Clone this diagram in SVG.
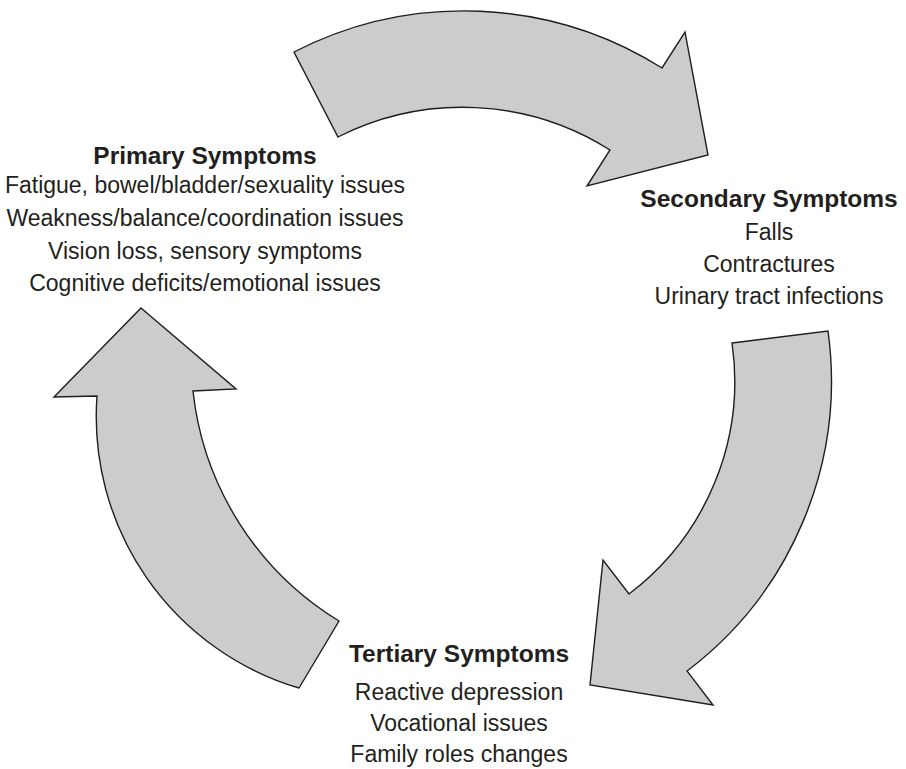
<svg xmlns="http://www.w3.org/2000/svg" width="906" height="769" viewBox="0 0 906 769">
<style>
.arrow{fill:#cccccc;stroke:#1e1e1e;stroke-width:1.4;stroke-linejoin:miter}
.h{font-family:"Liberation Sans",Arial,sans-serif;font-weight:bold;font-size:24.5px;fill:#231f20;text-anchor:middle}
.b{font-family:"Liberation Sans",Arial,sans-serif;font-size:23px;fill:#231f20;text-anchor:middle}
</style>
<rect width="906" height="769" fill="#ffffff"/>
<g id="connectors">
<path id="arrow-top" class="arrow" d="M294,52 A372,372 0 0 1 662,68 L685,32 L708,155 L587,186 L610,150 A276,276 0 0 0 338,137 Z"/>
<path id="arrow-right" class="arrow" d="M732,343 L828,331 A364,364 0 0 1 687,671 L713,705 L590,685 L603,560 L629,594 A267,267 0 0 0 732,343 Z"/>
<path id="arrow-left" class="arrow" d="M141,308 L236,389 L193,391 A308,308 0 0 0 339,621 L299,688 A283,283 0 0 1 97,396 L54,397 Z"/>
</g>
<g id="primary">
<text class="h" x="205" y="164">Primary Symptoms</text>
<text class="b" x="205" y="193">Fatigue, bowel/bladder/sexuality issues</text>
<text class="b" x="205" y="226">Weakness/balance/coordination issues</text>
<text class="b" x="205" y="259">Vision loss, sensory symptoms</text>
<text class="b" x="205" y="291">Cognitive deficits/emotional issues</text>
</g>
<g id="secondary">
<text class="h" x="769" y="207">Secondary Symptoms</text>
<text class="b" x="769" y="240">Falls</text>
<text class="b" x="769" y="272">Contractures</text>
<text class="b" x="769" y="304">Urinary tract infections</text>
</g>
<g id="tertiary">
<text class="h" x="459" y="662">Tertiary Symptoms</text>
<text class="b" x="459" y="700">Reactive depression</text>
<text class="b" x="459" y="731">Vocational issues</text>
<text class="b" x="459" y="762">Family roles changes</text>
</g>
</svg>
